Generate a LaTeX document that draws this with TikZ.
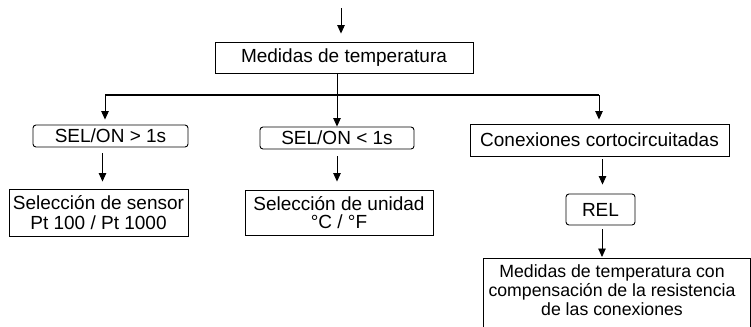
\documentclass[tikz,border=0pt]{standalone}
\usepackage{fontspec}
\setmainfont{Liberation Sans}
\usetikzlibrary{arrows.meta}
\begin{document}
\begin{tikzpicture}[x=1bp,y=-1bp,
  lw/.style={line width=0.9bp},
  box/.style={draw, lw, inner sep=0pt, align=center, font=\fontsize{19bp}{21bp}\selectfont},
  rbox/.style={box, rounded corners=3bp},
  arr/.style={lw, -{Triangle[length=8.5bp,width=7.5bp]}},
]
\useasboundingbox (0,0) rectangle (751,326);
% boxes
\node[box, minimum width=258bp, minimum height=31bp] (m) at (344,57.5) {Medidas de temperatura};
\node[rbox, minimum width=155bp, minimum height=22bp] (s1) at (110.5,136) {SEL/ON > 1s};
\node[rbox, minimum width=154bp, minimum height=22bp] (s2) at (337,138) {SEL/ON < 1s};
\node[box, minimum width=259bp, minimum height=32bp] (c) at (599.5,140) {Conexiones cortocircuitadas};
\node[box, minimum width=179bp, minimum height=47bp, font=\fontsize{19bp}{20.7bp}\selectfont] (sen) at (98.5,212.5) {Selección de sensor\\Pt 100 / Pt 1000};
\node[box, minimum width=188bp, minimum height=45bp, font=\fontsize{19bp}{18bp}\selectfont] (u) at (339,212.5) {Selección de unidad\\°C / °F};
\node[rbox, minimum width=69bp, minimum height=31bp] (rel) at (600.5,209.5) {REL};
% last box (cut off by the picture edge)
\coordinate (ftl) at (483,258);
\coordinate (ftr) at (750.5,258);
\draw[lw] (483,340) -- (ftl) -- (ftr) -- (750.5,340);
\node[inner sep=0pt, align=center, font=\fontsize{17.7bp}{19bp}\selectfont] (f) at (612,290) {Medidas de temperatura con\\compensación de la resistencia\\de las conexiones};
% connectors
\coordinate (in) at (341,8);
\draw[arr, shorten >=8bp] (in) -- (in |- m.north);
\coordinate (bl) at (105,95);
\coordinate (br) at (599,95);
\draw[line width=1.5bp] (bl) -- (br);
\draw[arr] (m.south -| s2.north) -- (s2.north);
\draw[arr, shorten >=5bp] (bl) -- (bl |- s1.north);
\draw[arr, shorten >=4bp] (br) -- (br |- c.north);
\draw[arr, shorten <=6bp, shorten >=7bp] ([xshift=-8bp]s1.south) -- ([xshift=-8bp]s1.south |- sen.north);
\draw[arr, shorten <=7bp, shorten >=8bp] (s2.south) -- (s2.south |- u.north);
\draw[arr, shorten <=3bp, shorten >=9bp] ([xshift=3bp]c.south) -- ([xshift=3bp]c.south |- rel.north);
\draw[arr, shorten <=4bp, shorten >=1bp] ([xshift=1.5bp]rel.south) -- ([xshift=1.5bp]rel.south |- ftl);
\end{tikzpicture}
\end{document}
